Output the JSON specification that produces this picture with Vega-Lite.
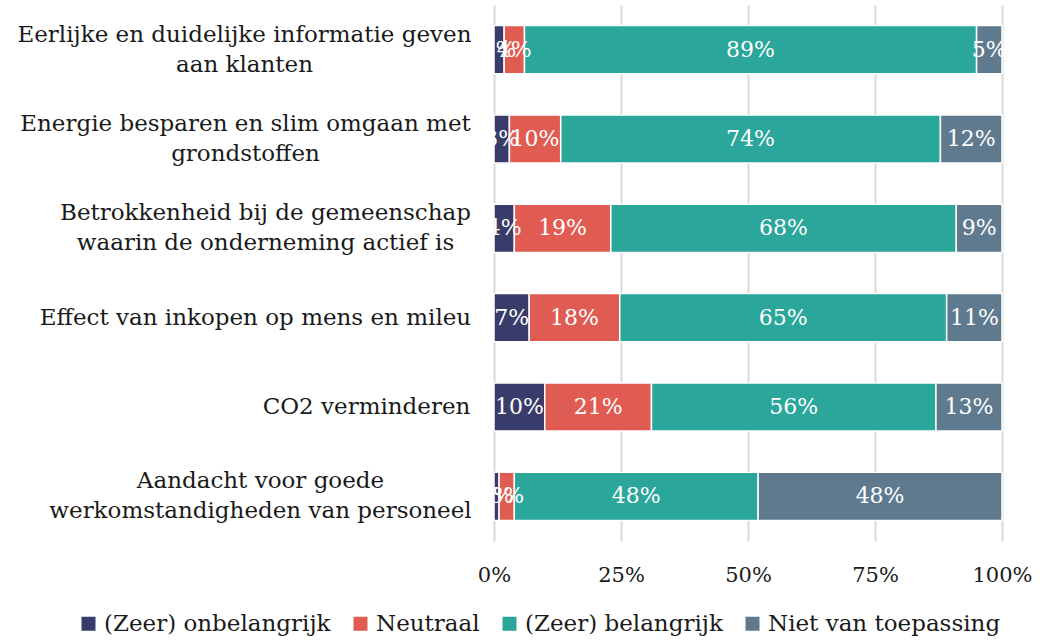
{
  "$schema": "https://vega.github.io/schema/vega-lite/v6.json",
  "width": 508,
  "height": 536,
  "autosize": "none",
  "padding": {"left": 494, "top": 5, "right": 59, "bottom": 99},
  "background": "white",
  "config": {
    "view": {"stroke": null},
    "font": "DejaVu Serif"
  },
  "data": {
    "values": [
      {"item": "Eerlijke en duidelijke informatie geven|aan klanten", "cat": "(Zeer) onbelangrijk", "ord": 1, "value": 2},
      {"item": "Eerlijke en duidelijke informatie geven|aan klanten", "cat": "Neutraal", "ord": 2, "value": 4},
      {"item": "Eerlijke en duidelijke informatie geven|aan klanten", "cat": "(Zeer) belangrijk", "ord": 3, "value": 89},
      {"item": "Eerlijke en duidelijke informatie geven|aan klanten", "cat": "Niet van toepassing", "ord": 4, "value": 5},
      {"item": "Energie besparen en slim omgaan met|grondstoffen", "cat": "(Zeer) onbelangrijk", "ord": 1, "value": 3},
      {"item": "Energie besparen en slim omgaan met|grondstoffen", "cat": "Neutraal", "ord": 2, "value": 10},
      {"item": "Energie besparen en slim omgaan met|grondstoffen", "cat": "(Zeer) belangrijk", "ord": 3, "value": 74},
      {"item": "Energie besparen en slim omgaan met|grondstoffen", "cat": "Niet van toepassing", "ord": 4, "value": 12},
      {"item": "Betrokkenheid bij de gemeenschap|waarin de onderneming actief is", "cat": "(Zeer) onbelangrijk", "ord": 1, "value": 4},
      {"item": "Betrokkenheid bij de gemeenschap|waarin de onderneming actief is", "cat": "Neutraal", "ord": 2, "value": 19},
      {"item": "Betrokkenheid bij de gemeenschap|waarin de onderneming actief is", "cat": "(Zeer) belangrijk", "ord": 3, "value": 68},
      {"item": "Betrokkenheid bij de gemeenschap|waarin de onderneming actief is", "cat": "Niet van toepassing", "ord": 4, "value": 9},
      {"item": "Effect van inkopen op mens en mileu", "cat": "(Zeer) onbelangrijk", "ord": 1, "value": 7},
      {"item": "Effect van inkopen op mens en mileu", "cat": "Neutraal", "ord": 2, "value": 18},
      {"item": "Effect van inkopen op mens en mileu", "cat": "(Zeer) belangrijk", "ord": 3, "value": 65},
      {"item": "Effect van inkopen op mens en mileu", "cat": "Niet van toepassing", "ord": 4, "value": 11},
      {"item": "CO2 verminderen", "cat": "(Zeer) onbelangrijk", "ord": 1, "value": 10},
      {"item": "CO2 verminderen", "cat": "Neutraal", "ord": 2, "value": 21},
      {"item": "CO2 verminderen", "cat": "(Zeer) belangrijk", "ord": 3, "value": 56},
      {"item": "CO2 verminderen", "cat": "Niet van toepassing", "ord": 4, "value": 13},
      {"item": "Aandacht voor goede|werkomstandigheden van personeel", "cat": "(Zeer) onbelangrijk", "ord": 1, "value": 1},
      {"item": "Aandacht voor goede|werkomstandigheden van personeel", "cat": "Neutraal", "ord": 2, "value": 3},
      {"item": "Aandacht voor goede|werkomstandigheden van personeel", "cat": "(Zeer) belangrijk", "ord": 3, "value": 48},
      {"item": "Aandacht voor goede|werkomstandigheden van personeel", "cat": "Niet van toepassing", "ord": 4, "value": 48}
    ]
  },
  "transform": [
    {"stack": "value", "groupby": ["item"], "sort": [{"field": "ord", "order": "ascending"}], "offset": "normalize", "as": ["v0", "v1"]},
    {"calculate": "(datum.v0 + datum.v1) / 2", "as": "mid"},
    {"calculate": "datum.value + '%'", "as": "lbl"}
  ],
  "encoding": {
    "y": {
      "field": "item",
      "type": "nominal",
      "sort": null,
      "scale": {"paddingInner": 0.46, "paddingOuter": 0.23},
      "axis": {
        "title": null,
        "domain": false,
        "ticks": false,
        "labelExpr": "split(datum.label, '|')",
        "labelFontSize": 23,
        "labelLineHeight": 30,
        "labelColor": "#1a1a1a",
        "labelAlign": "center",
        "labelOffset": {
          "condition": {"test": "indexof(datum.value, '|') >= 0", "value": -15},
          "value": 0
        },
        "labelPadding": {
          "condition": [
            {"test": "indexof(datum.value, 'Eerlijke') === 0", "value": 250},
            {"test": "indexof(datum.value, 'Energie') === 0", "value": 249},
            {"test": "indexof(datum.value, 'Betrokkenheid') === 0", "value": 229},
            {"test": "indexof(datum.value, 'Effect') === 0", "value": 239},
            {"test": "indexof(datum.value, 'CO2') === 0", "value": 128}
          ],
          "value": 234
        },
        "labelLimit": 600
      }
    }
  },
  "layer": [
    {
      "mark": {"type": "bar", "stroke": "white", "strokeWidth": 1.5},
      "encoding": {
        "x": {
          "field": "v0",
          "type": "quantitative",
          "scale": {"domain": [0, 1], "nice": false},
          "axis": {
            "title": null,
            "format": ".0%",
            "values": [0, 0.25, 0.5, 0.75, 1],
            "domain": false,
            "ticks": false,
            "grid": true,
            "gridColor": "#d9d9d9",
            "gridWidth": 2,
            "labelFlush": false,
            "labelFontSize": 21,
            "labelColor": "#1a1a1a",
            "labelPadding": 23
          }
        },
        "x2": {"field": "v1"},
        "color": {
          "field": "cat",
          "type": "nominal",
          "scale": {
            "domain": ["(Zeer) onbelangrijk", "Neutraal", "(Zeer) belangrijk", "Niet van toepassing"],
            "range": ["#393c6a", "#e05c52", "#2aa69a", "#5f7a8e"]
          },
          "legend": {
            "title": null,
            "orient": "none",
            "direction": "horizontal",
            "legendX": -417,
            "legendY": 607,
            "symbolType": "square",
            "symbolSize": 196,
            "symbolStrokeWidth": 0,
            "labelFontSize": 23,
            "labelColor": "#1a1a1a",
            "labelOffset": 4,
            "columnPadding": 18,
            "labelLimit": 400
          }
        }
      }
    },
    {
      "mark": {"type": "text", "color": "white", "fontSize": 22, "align": "center", "baseline": "middle"},
      "encoding": {
        "x": {"field": "mid", "type": "quantitative"},
        "text": {"field": "lbl", "type": "nominal"},
        "detail": {"field": "cat"}
      }
    }
  ]
}
